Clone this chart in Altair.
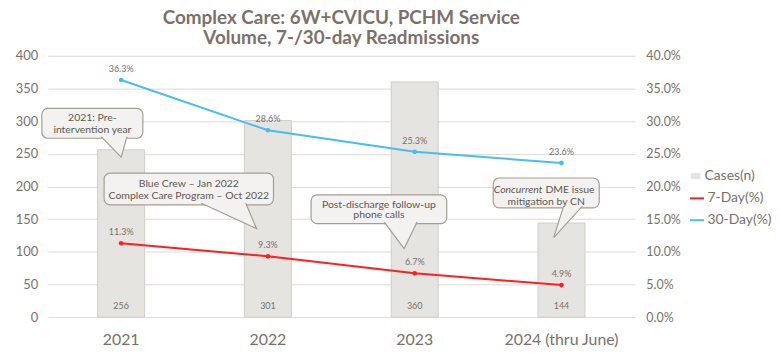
import altair as alt
import pandas as pd

# ---- chart values ----
years = ["2021", "2022", "2023", "2024 (thru June)"]
cases = [256, 301, 360, 144]
day7 = [0.113, 0.093, 0.067, 0.049]
day30 = [0.363, 0.286, 0.253, 0.236]
series_names = ["7-Day(%)", "30-Day(%)"]
series_colors = ["#ff1f1f", "#45bfec"]

# ---- callout annotations (x in year-slot units 0..4, y in case units) ----
note_x0 = [-0.04, 0.384, 1.794, 3.035]
note_x1 = [0.648, 1.538, 2.718, 3.757]
note_y0 = [273.8, 171.9, 143.0, 167.3]
note_y1 = [319.4, 220.5, 187.1, 212.9]
tail_xa = [0.364, 1.046, 2.293, 3.514]
tail_xb = [0.54, 1.349, 2.516, 3.642]
tail_tip_x = [0.5, 1.423, 2.428, 3.447]
tail_tip_y = [244.9, 135.4, 104.9, 121.7]
note_text = [
    ["2021:  Pre-", "intervention year"],
    ["Blue Crew \u2013 Jan 2022", "Complex Care Program \u2013 Oct 2022"],
    ["Post-discharge follow-up", "phone calls"],
    ["", "mitigation by CN"],
]
note_text_y = [[304, 287], [204, 185.6], [172, 157], [194.7, 176.4]]
italic_word = "Concurrent"
italic_rest = "DME issue"
italic_split_x = 3.37

FONT = "Lato"
TXT = "#7a716a"
GRID = "#dcdad7"

bars_df = pd.DataFrame({"year": years, "cases": cases, "s": ["Cases(n)"] * 4})
lines_df = pd.DataFrame(
    {
        "year": years * 2,
        "series": [series_names[0]] * 4 + [series_names[1]] * 4,
        "value": day7 + day30,
    }
)

boxes_df = pd.DataFrame({"x0": note_x0, "x1": note_x1, "y0": note_y0, "y1": note_y1})
tail_rows = []
for i in range(4):
    base = note_y0[i] + 2.5
    tail_rows.append({"id": i, "o": 0, "x": tail_xa[i], "y": base})
    tail_rows.append({"id": i, "o": 1, "x": tail_tip_x[i], "y": tail_tip_y[i]})
    tail_rows.append({"id": i, "o": 2, "x": tail_xb[i], "y": base})
tails_df = pd.DataFrame(tail_rows)
text_rows = []
for i in range(4):
    cx = (note_x0[i] + note_x1[i]) / 2
    for j in range(2):
        if note_text[i][j]:
            text_rows.append({"x": cx, "y": note_text_y[i][j], "t": note_text[i][j]})
notes_text_df = pd.DataFrame(text_rows)
ital_df = pd.DataFrame({"x": [italic_split_x], "y": [note_text_y[3][0]], "a": [italic_word], "b": [italic_rest]})

xband = alt.Scale(domain=years, paddingInner=0.68, paddingOuter=0.34)
xq = alt.Scale(domain=[0, 4], nice=False, zero=False)
yleft = alt.Scale(domain=[0, 400], nice=False)
yright = alt.Scale(domain=[0, 0.4], nice=False)

bars = alt.Chart(bars_df).mark_bar(stroke="#d2cec8", strokeWidth=1).encode(
    x=alt.X("year:N", sort=years, scale=xband, title=None,
            axis=alt.Axis(labelAngle=0, labelFontSize=16, labelColor=TXT, labelFont=FONT,
                          ticks=False, domain=False, labelPadding=15)),
    y=alt.Y("cases:Q", scale=yleft, title=None,
            axis=alt.Axis(values=list(range(0, 401, 50)), labelFontSize=13, labelColor=TXT,
                          labelFont=FONT, ticks=False, domain=False, labelPadding=10,
                          gridColor=GRID, gridWidth=1)),
    fill=alt.Fill("s:N", scale=alt.Scale(domain=["Cases(n)"], range=["#e6e4e0"]),
                  legend=alt.Legend(title=None, orient="none", legendX=645, legendY=114,
                                    symbolType="M-1.5,-0.9L1.5,-0.9L1.5,0.9L-1.5,0.9Z",
                                    symbolSize=40, symbolStrokeWidth=0,
                                    labelFontSize=14, labelColor=TXT, labelFont=FONT,
                                    labelOffset=2, padding=0)),
)

bar_labels = alt.Chart(bars_df).mark_text(fontSize=9, color="#76706a", font=FONT, dy=-11).encode(
    x=alt.X("year:N", sort=years, scale=xband, axis=None),
    y=alt.Y("zero:Q", scale=yleft, axis=None),
    text=alt.Text("cases:Q"),
).transform_calculate(zero="0")

lines = alt.Chart(lines_df).mark_line(strokeWidth=2, point=alt.OverlayMarkDef(size=22, filled=True)).encode(
    x=alt.X("year:N", sort=years, scale=xband, axis=None),
    y=alt.Y("value:Q", scale=yright, title=None,
            axis=alt.Axis(orient="right", format=".1%", values=[i * 0.05 for i in range(9)],
                          labelFontSize=12.5, labelColor=TXT, labelFont=FONT, ticks=False,
                          domain=False, grid=False, labelPadding=11)),
    color=alt.Color("series:N", scale=alt.Scale(domain=series_names, range=series_colors),
                    legend=alt.Legend(title=None, orient="none", legendX=645, legendY=135,
                                      symbolType="stroke", symbolStrokeWidth=2, symbolSize=200,
                                      labelFontSize=14, labelColor=TXT, labelFont=FONT,
                                      rowPadding=6, labelOffset=2, padding=0)),
)

line_labels = alt.Chart(lines_df).mark_text(fontSize=9, color="#76706a", font=FONT, dy=-11).encode(
    x=alt.X("year:N", sort=years, scale=xband, axis=None),
    y=alt.Y("value:Q", scale=yright, axis=None),
    text=alt.Text("value:Q", format=".1%"),
)

boxes = alt.Chart(boxes_df).mark_rect(fill="#f3f2f0", stroke="#a59e94", strokeWidth=1.2, cornerRadius=6).encode(
    x=alt.X("x0:Q", scale=xq, axis=None), x2="x1:Q",
    y=alt.Y("y0:Q", scale=yleft, axis=None), y2="y1:Q",
)

tails = alt.Chart(tails_df).mark_line(fill="#f3f2f0", stroke="#a59e94", strokeWidth=1.2, interpolate="linear").encode(
    x=alt.X("x:Q", scale=xq, axis=None),
    y=alt.Y("y:Q", scale=yleft, axis=None),
    detail="id:N",
    order="o:Q",
)

notes_text = alt.Chart(notes_text_df).mark_text(fontSize=10.5, color="#5e5852", font=FONT).encode(
    x=alt.X("x:Q", scale=xq, axis=None),
    y=alt.Y("y:Q", scale=yleft, axis=None),
    text="t:N",
)
ital_a = alt.Chart(ital_df).mark_text(fontSize=10.5, color="#5e5852", font=FONT, fontStyle="italic", align="right").encode(
    x=alt.X("x:Q", scale=xq, axis=None),
    y=alt.Y("y:Q", scale=yleft, axis=None),
    text="a:N",
)
ital_b = alt.Chart(ital_df).mark_text(fontSize=10.5, color="#5e5852", font=FONT, align="left", dx=3).encode(
    x=alt.X("x:Q", scale=xq, axis=None),
    y=alt.Y("y:Q", scale=yleft, axis=None),
    text="b:N",
)

chart = alt.layer(
    bars, bar_labels, lines, line_labels, boxes, tails, notes_text, ital_a, ital_b
).resolve_scale(
    x="independent", y="independent", fill="independent", color="independent"
).properties(
    width=591, height=263,
    padding={"left": 7, "top": 0, "right": 0, "bottom": 0},
    title=alt.TitleParams(
        ["Complex Care: 6W+CVICU, PCHM Service", "Volume, 7-/30-day Readmissions"],
        fontSize=19, fontWeight="bold", color="#7b716a", font=FONT, anchor="middle",
        frame="group", lineHeight=20, offset=2,
    ),
).configure_view(stroke=None)

chart.save("out.html", embed_options={"renderer": "svg", "actions": False})
